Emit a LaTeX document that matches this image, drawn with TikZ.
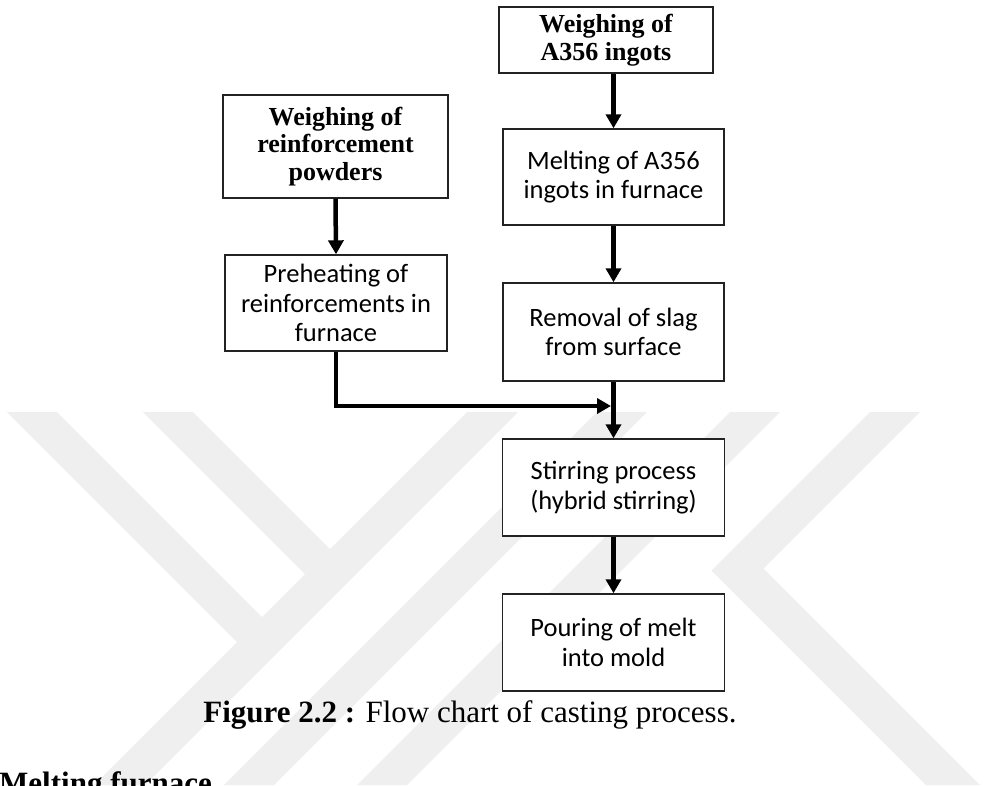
\documentclass[tikz,border=0pt]{standalone}
\usepackage{fontspec}
\setmainfont{Liberation Serif}
\newfontfamily\calib{Carlito}
\usetikzlibrary{arrows.meta}
\definecolor{wm}{RGB}{239,239,239}
\definecolor{bordc}{RGB}{35,35,35}
\tikzset{
  procbox/.style={draw=bordc, line width=1.4pt, fill=white, align=center, inner sep=0pt,
    font={\calib\fontsize{26.5}{29.5}\selectfont}},
  headbox/.style={draw=bordc, line width=1.4pt, fill=white, align=center, inner sep=0pt,
    font={\fontsize{26}{27.5}\selectfont\bfseries}},
  flow/.style={line width=4.5pt, -{Triangle[width=15pt,length=14pt]}},
  wmark/.style={fill=wm, draw=none}
}
\begin{document}
\begin{tikzpicture}[x=1pt,y=-1pt]
\useasboundingbox (0,0) rectangle (985,785);
% watermark
\fill[wmark] (7,412) -- (57,412) -- (262,617) -- (237,642) -- cycle;
\fill[wmark] (143,412) -- (193,412) -- (330,549) -- (305,574) -- cycle;
\fill[wmark] (467,412) -- (518,412) -- (145,785) -- (94,785) -- cycle;
\fill[wmark] (597,412) -- (647,412) -- (274,785) -- (224,785) -- cycle;
\fill[wmark] (730,412) -- (780,412) -- (407,785) -- (357,785) -- cycle;
\fill[wmark] (870,412) -- (920,412) -- (763.5,568.5) -- (980,785) -- (926,785) -- (711.5,570.5) -- cycle;
% boxes
\node[headbox, minimum width=214pt, minimum height=66pt] (wa) at (606,40) {Weighing of\\A356 ingots};
\node[headbox, minimum width=225pt, minimum height=103pt] (wr) at (335.5,146.5) {Weighing of\\reinforcement\\powders};
\node[procbox, minimum width=221pt, minimum height=96pt] (melt) at (613.5,177) {Melting of A356\\ingots in furnace};
\node[procbox, minimum width=222pt, minimum height=96pt] (pre) at (336,303) {Preheating of\\reinforcements in\\furnace};
\node[procbox, minimum width=221pt, minimum height=98pt] (rem) at (613.5,332) {Removal of slag\\from surface};
\node[procbox, minimum width=222pt, minimum height=97pt] (stir) at (613.5,487.5) {Stirring process\\(hybrid stirring)};
\node[procbox, minimum width=222pt, minimum height=97pt] (pour) at (613.5,642.5) {Pouring of melt\\into mold};
\coordinate (jn) at (611,406);
% connectors
\draw[flow] (melt.north |- wa.south) -- (melt.north);
\draw[flow] (melt.south) -- (rem.north);
\draw[flow] (wr.south) -- (pre.north);
\draw[flow] (pre.south) |- (jn);
\draw[flow] (rem.south) -- (stir.north);
\draw[flow] (stir.south) -- (pour.north);
% caption and following heading
\node[anchor=base, inner sep=0pt] (cap) at (470,722) {\fontsize{31}{36}\selectfont\textbf{Figure 2.2 :} Flow chart of casting process.};
\node[anchor=base west, inner sep=0pt] (mf) at (-1,793) {\fontsize{31}{36}\selectfont\bfseries Melting furnace};
\end{tikzpicture}
\end{document}
